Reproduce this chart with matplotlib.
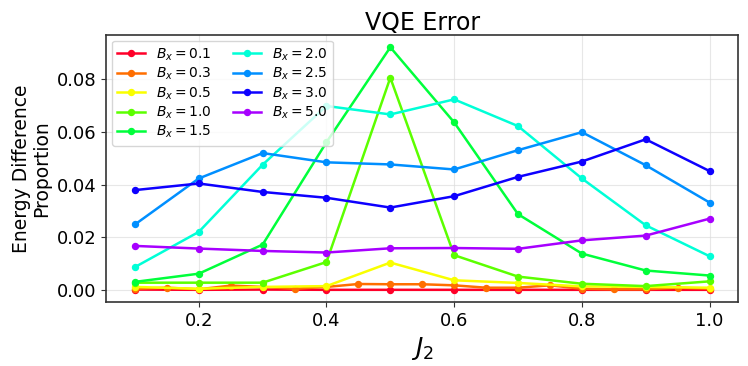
import numpy as np
import matplotlib
matplotlib.use("Agg")
import matplotlib.pyplot as plt

# J2 grid (coarse for most fields, fine for Bx = 0.3)
j2 = [0.1, 0.2, 0.3, 0.4, 0.5, 0.6, 0.7, 0.8, 0.9, 1.0]
j2_fine = [0.1, 0.15, 0.2, 0.25, 0.3, 0.35, 0.4, 0.45, 0.5, 0.55,
           0.6, 0.65, 0.7, 0.75, 0.8, 0.85, 0.9, 0.95, 1.0]

bx_values = [0.1, 0.3, 0.5, 1.0, 1.5, 2.0, 2.5, 3.0, 5.0]

err_b01 = [0.0003, 0.0002, 0.0003, 0.0002, 0.0002, 0.0002, 0.0002, 0.0002, 0.0002, 0.0002]
err_b03 = [0.0006, 0.0010, 0.0004, 0.0018, 0.0013, 0.0006, 0.0013, 0.0024, 0.0023, 0.0023,
           0.0019, 0.0010, 0.0010, 0.0019, 0.0006, 0.0004, 0.0004, 0.0010, 0.0006]
err_b05 = [0.0013, 0.0006, 0.0013, 0.0016, 0.0105, 0.0038, 0.0028, 0.0015, 0.0013, 0.0010]
err_b10 = [0.0029, 0.0029, 0.0029, 0.0107, 0.0804, 0.0133, 0.0052, 0.0025, 0.0016, 0.0034]
err_b15 = [0.0032, 0.0063, 0.0173, 0.0560, 0.0919, 0.0635, 0.0288, 0.0139, 0.0075, 0.0056]
err_b20 = [0.0088, 0.0221, 0.0475, 0.0697, 0.0665, 0.0722, 0.0621, 0.0423, 0.0246, 0.0129]
err_b25 = [0.0249, 0.0423, 0.0519, 0.0484, 0.0476, 0.0457, 0.0530, 0.0598, 0.0473, 0.0332]
err_b30 = [0.0379, 0.0404, 0.0372, 0.0350, 0.0313, 0.0356, 0.0429, 0.0487, 0.0571, 0.0451]
err_b50 = [0.0168, 0.0158, 0.0149, 0.0143, 0.0159, 0.0160, 0.0157, 0.0189, 0.0207, 0.0271]

series = [
    (j2, err_b01), (j2_fine, err_b03), (j2, err_b05), (j2, err_b10), (j2, err_b15),
    (j2, err_b20), (j2, err_b25), (j2, err_b30), (j2, err_b50),
]

colors = plt.cm.gist_rainbow(np.arange(len(bx_values)) / len(bx_values))

fig = plt.figure(figsize=(7.48, 3.66), dpi=100)
ax = fig.add_axes([0.142, 0.175, 0.845, 0.729])

for (x, y), bx, c in zip(series, bx_values, colors):
    ax.plot(x, y, marker="o", markersize=4.3, linewidth=1.8, color=c,
            label=rf"$B_x = {bx}$")

ax.set_title("VQE Error", fontsize=17, pad=4)
ax.set_xlabel(r"$J_2$", fontsize=18)
ax.set_ylabel("Energy Difference\nProportion", fontsize=13.5, linespacing=1.05)
ax.tick_params(labelsize=13, color="#333333")
ax.set_xticks([0.2, 0.4, 0.6, 0.8, 1.0])
ax.set_yticks([0.0, 0.02, 0.04, 0.06, 0.08])
ax.grid(True, color="#dddddd", alpha=0.7, linewidth=0.8)
for s in ax.spines.values():
    s.set_color("#333333")
    s.set_linewidth(1.2)

ax.legend(loc="upper left", ncol=2, fontsize=10, handlelength=2.0,
          columnspacing=1.5, labelspacing=0.22, borderaxespad=0.4)

fig.savefig("out.png", dpi=100)
